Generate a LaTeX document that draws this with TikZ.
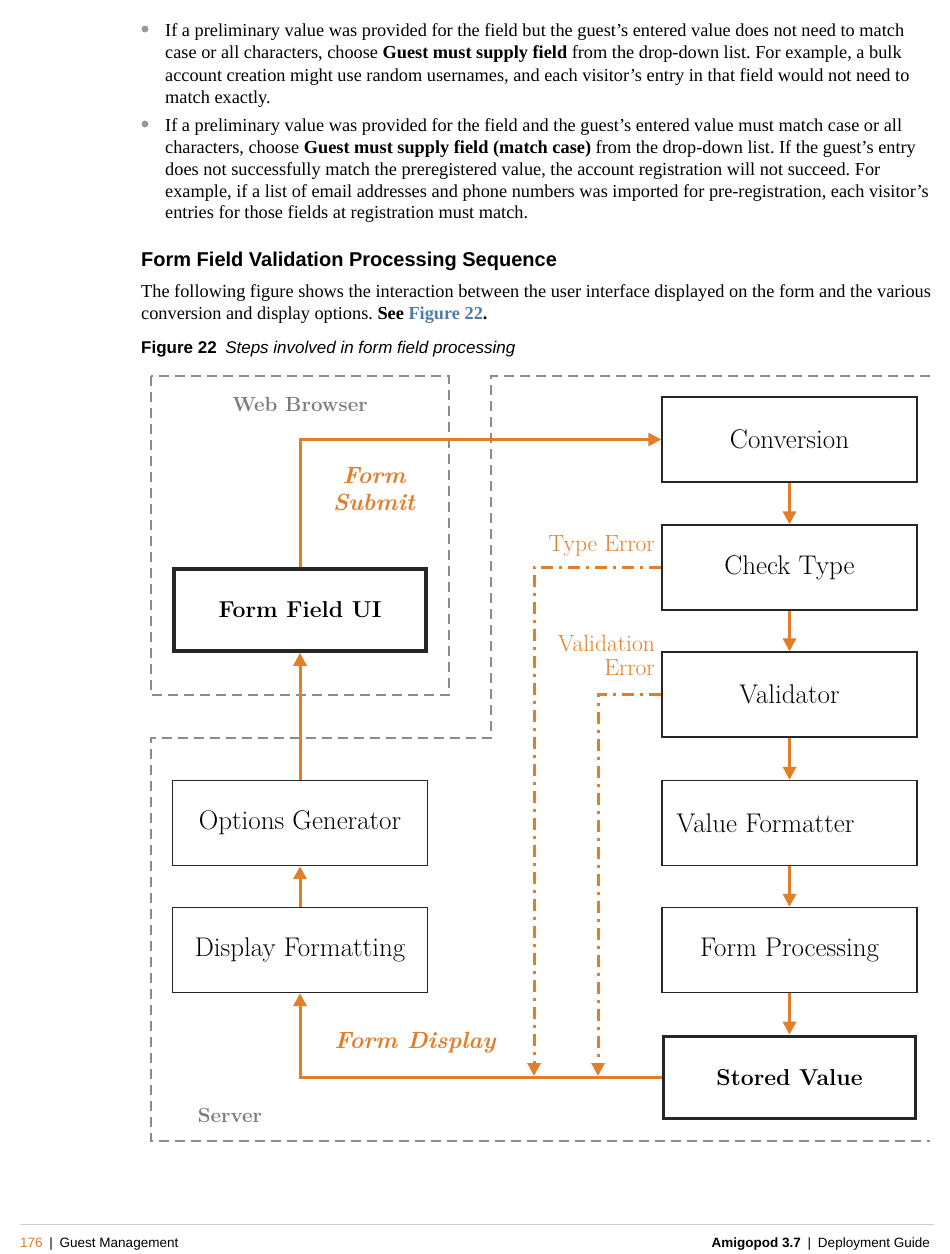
\documentclass[tikz,border=0pt]{standalone}
\usepackage{fontspec}
\newfontfamily\bodyfont{Liberation Serif}
\newfontfamily\headfont{Liberation Sans}
\usetikzlibrary{arrows.meta}
\definecolor{flowor}{RGB}{226,125,40}
\definecolor{regiongray}{RGB}{140,140,140}
\definecolor{labelgray}{RGB}{125,125,125}
\definecolor{linkblue}{RGB}{78,124,168}
\definecolor{rulegray}{RGB}{205,205,205}
\frenchspacing

\begin{document}
\begin{tikzpicture}[x=1pt,y=-1pt,
    box/.style={draw=black!85,line width=1.3pt,minimum width=255pt,minimum height=85pt,inner sep=0pt,font=\fontsize{27}{31}\selectfont},
    thickbox/.style={box,line width=3.6pt,minimum width=252pt,minimum height=82pt,font=\fontsize{23}{28}\selectfont\bfseries},
    flow/.style={draw=flowor,line width=3pt,-{Triangle[length=13pt,width=13pt]}},
    errflow/.style={flow,dash pattern=on 12pt off 6pt on 3pt off 6pt},
    region/.style={draw=regiongray,line width=2.2pt,dash pattern=on 10pt off 6pt},
    errlabel/.style={text=flowor,font=\fontsize{23.5}{24}\selectfont,align=right,anchor=east,inner sep=0pt},
    flowlabel/.style={text=flowor,font=\fontsize{23.5}{27}\selectfont\bfseries\itshape,align=center},
    regionlabel/.style={text=labelgray,font=\fontsize{20.5}{24}\selectfont\bfseries},
    bodyline/.style={anchor=base west,inner sep=0pt,font=\bodyfont\fontsize{18.3}{22}\selectfont},
    headline/.style={anchor=base west,inner sep=0pt,font=\headfont\fontsize{20}{24}\selectfont},
    footer/.style={anchor=base west,inner sep=0pt,font=\headfont\fontsize{13.5}{16}\selectfont},
    bullet/.style={circle,fill=black!40,minimum size=7pt,inner sep=0pt},
  ]
  \useasboundingbox (0,0) rectangle (950,1254);

  % text above the figure
  \node[bullet] (dot1) at (145,29) {};
  \node[bodyline] (l1) at (165,36) {If a preliminary value was provided for the field but the guest’s entered value does not need to match};
  \node[bodyline] (l2) at (165,58) {case or all characters, choose \textbf{Guest must supply field} from the drop-down list. For example, a bulk};
  \node[bodyline] (l3) at (165,81) {account creation might use random usernames, and each visitor’s entry in that field would not need to};
  \node[bodyline] (l4) at (165,103) {match exactly.};
  \node[bullet] (dot2) at (145,124) {};
  \node[bodyline] (l5) at (165,131) {If a preliminary value was provided for the field and the guest’s entered value must match case or all};
  \node[bodyline] (l6) at (165,153) {characters, choose \textbf{Guest must supply field (match case)} from the drop-down list. If the guest’s entry};
  \node[bodyline] (l7) at (165,175) {does not successfully match the preregistered value, the account registration will not succeed. For};
  \node[bodyline] (l8) at (165,197) {example, if a list of email addresses and phone numbers was imported for pre-registration, each visitor’s};
  \node[bodyline] (l9) at (165,218) {entries for those fields at registration must match.};

  \node[headline,font=\headfont\bfseries\fontsize{20}{24}\selectfont] (head) at (141,266) {Form Field Validation Processing Sequence};
  \node[bodyline] (p1) at (141,297) {The following figure shows the interaction between the user interface displayed on the form and the various};
  \node[bodyline] (p2) at (141,319) {conversion and display options. \textbf{See \textcolor{linkblue}{Figure 22}.}};
  \node[headline,font=\headfont\fontsize{17}{20}\selectfont] (cap) at (141,353) {\textbf{Figure 22}\enspace\textit{Steps involved in form field processing}};

  % regions
  \draw[region] (151,376) rectangle (449,695);
  \draw[region] (930,376) -- (491,376) -- (491,738) -- (151,738) -- (151,1141) -- (930,1141);
  \node[regionlabel] (wb) at (300,404) {Web Browser};
  \node[regionlabel] (srv) at (230,1115) {Server};

  % server side steps
  \node[box] (conv) at (789.5,439.5) {Conversion};
  \node[box] (check) at (789.5,567.5) {Check Type};
  \node[box] (valid) at (789.5,694.5) {Validator};
  \node[box,label={[xshift=-24pt,font=\fontsize{27}{31}\selectfont]center:Value Formatter}] (fmt) at (789.5,823) {};
  \node[box] (proc) at (789.5,950) {Form Processing};
  \node[thickbox] (stored) at (789.5,1077.5) {Stored Value};

  % browser side
  \node[thickbox] (ui) at (300,610) {Form Field UI};
  \node[box] (opts) at (300,823) {Options Generator};
  \node[box] (disp) at (300,950) {Display Formatting};

  \draw[flow] (ui.north) |- (conv.west);
  \draw[flow] (conv) -- (check);
  \draw[flow] (check) -- (valid);
  \draw[flow] (valid) -- (fmt);
  \draw[flow] (fmt) -- (proc);
  \draw[flow] (proc) -- (stored);
  \draw[flow] (stored.west) -| (disp.south);
  \draw[flow] (disp) -- (opts);
  \draw[flow] (opts) -- (ui);

  % error paths
  \coordinate (tydrop) at (534,1076);
  \coordinate (vadrop) at (598,1076);
  \draw[errflow] (check.west) -| (tydrop);
  \draw[errflow] (valid.west) -| (vadrop);

  \node[flowlabel] (submit) at (374,489) {Form\\Submit};
  \node[flowlabel] (fdisp) at (415,1043) {Form Display};
  \node[errlabel] (tyerr) at (655,546) {Type Error};
  \node[errlabel] (vaerr) at (655,655) {Validation\\Error};

  % footer
  \draw[rulegray,line width=1pt] (20,1224) -- (934,1224);
  \node[footer] (pnum) at (20,1247) {\textcolor{flowor}{176}\enspace|\enspace Guest Management};
  \node[footer,anchor=base east] (guide) at (930,1247) {\textbf{Amigopod 3.7}\enspace|\enspace Deployment Guide};
\end{tikzpicture}
\end{document}
